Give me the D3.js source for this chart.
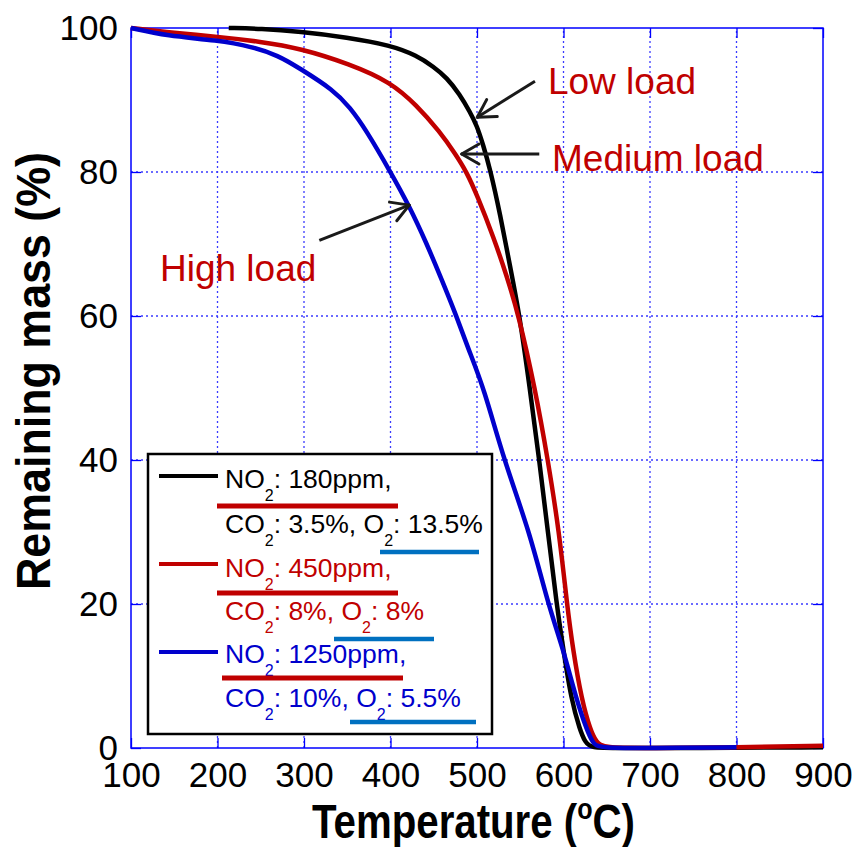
<!DOCTYPE html>
<html>
<head>
<meta charset="utf-8">
<script src="https://cdn.jsdelivr.net/npm/d3@7"></script>
<style>
  body { margin: 0; background: #fff; }
  text { font-family: "Liberation Sans", Arial, sans-serif; }
</style>
</head>
<body>
<svg id="chart" width="856" height="847"></svg>
<script>
// temperature (C) / remaining mass (%)
const lowLoadT    = [213, 250, 295, 350, 400, 430, 450, 465, 480, 492, 500, 507, 515, 527, 538, 549, 561, 572, 582, 592, 600, 609, 619, 625, 632, 660, 750, 900];
const lowLoadMass = [100, 99.9, 99.5, 98.7, 97.6, 96.2, 94.6, 93.1, 90.8, 88.3, 86.4, 83.8, 80.5, 74, 67, 60.3, 50, 40, 30, 20, 13.5, 6.7, 2.5, 0.8, 0, 0, 0, 0.1];

const medLoadT    = [100, 150, 200, 250, 295, 353, 400, 430, 457, 475, 488, 500, 519, 534, 548, 567, 582, 595, 604, 611, 621, 631, 638, 646, 700, 800, 900];
const medLoadMass = [100, 99.3, 98.8, 98.1, 97.2, 95.0, 92.5, 89.3, 85.6, 82.5, 80, 76.8, 71, 65.7, 60.2, 50, 40, 30, 20, 13.6, 6.7, 2.5, 0.8, 0, 0, 0.1, 0.3];

const highLoadT    = [100, 141, 200, 240, 270, 295, 334, 353, 372, 400, 422, 442, 458, 475, 490, 508, 531, 561, 582, 600, 615, 627, 634, 640, 700, 800];
const highLoadMass = [100, 98.9, 98.3, 97.4, 96.2, 94.4, 91.4, 89, 85.8, 80, 75.2, 70, 65.4, 60.4, 55.4, 50, 40, 30, 20, 13.6, 6.7, 2.5, 0.7, 0, 0, 0.1];

const xTicks = [100, 200, 300, 400, 500, 600, 700, 800, 900];
const yTicks = [0, 20, 40, 60, 80, 100];

const seriesColors = ["#000000", "#c00000", "#0000cc"];
const legendLines = [
  ["NO_2: 180ppm,", "CO_2: 3.5%, O_2: 13.5%"],
  ["NO_2: 450ppm,", "CO_2: 8%, O_2: 8%"],
  ["NO_2: 1250ppm,", "CO_2: 10%, O_2: 5.5%"]
];

// labels + arrows, in data units (temperature, mass)
const loadLabels = ["Low load", "Medium load", "High load"];
const labelAt = [[582, 90.8], [586.7, 80.1], [133.5, 64.9]];
const arrowTail = [[567, 92.6], [572, 82.5], [317.7, 70.5]];
const arrowTip = [[500.3, 87.6], [482.3, 82.5], [421.7, 75.4]];

const series = [
  lowLoadT.map((t, i) => ({t: t, m: lowLoadMass[i]})),
  medLoadT.map((t, i) => ({t: t, m: medLoadMass[i]})),
  highLoadT.map((t, i) => ({t: t, m: highLoadMass[i]}))
];

const svg = d3.select("#chart");

const x = d3.scaleLinear().domain([100, 900]).range([131, 823]);
const y = d3.scaleLinear().domain([0, 100]).range([748, 28]);

const GRID = "#3a3aff";
const AXIS = "#0000ff";

// dotted grid
svg.append("g")
  .selectAll("line.vgrid")
  .data(xTicks.slice(1, -1))
  .join("line")
  .attr("x1", d => x(d)).attr("x2", d => x(d))
  .attr("y1", y(0)).attr("y2", y(100))
  .attr("stroke", GRID).attr("stroke-width", 1.3)
  .attr("stroke-dasharray", "2,3");

svg.append("g")
  .selectAll("line.hgrid")
  .data(yTicks.slice(1, -1))
  .join("line")
  .attr("x1", x(100)).attr("x2", x(900))
  .attr("y1", d => y(d)).attr("y2", d => y(d))
  .attr("stroke", GRID).attr("stroke-width", 1.3)
  .attr("stroke-dasharray", "2,3");

// axes, ticks inward on all sides
function styleAxis(g) {
  g.select(".domain").remove();
  g.selectAll(".tick line").attr("stroke", AXIS).attr("stroke-width", 1.3);
  g.selectAll(".tick text").attr("fill", "#000").attr("font-size", 35)
    .attr("font-family", "Liberation Sans, Arial, sans-serif");
}

svg.append("g")
  .attr("transform", `translate(0,${y(0)})`)
  .call(d3.axisBottom(x).tickValues(xTicks).tickSizeInner(-10).tickSizeOuter(0).tickPadding(14))
  .call(styleAxis);

svg.append("g")
  .attr("transform", `translate(0,${y(100)})`)
  .call(d3.axisTop(x).tickValues(xTicks).tickSizeInner(-10).tickSizeOuter(0).tickFormat(""))
  .call(styleAxis);

svg.append("g")
  .attr("transform", `translate(${x(100)},0)`)
  .call(d3.axisLeft(y).tickValues(yTicks).tickSizeInner(-10).tickSizeOuter(0).tickPadding(13))
  .call(styleAxis);

svg.append("g")
  .attr("transform", `translate(${x(900)},0)`)
  .call(d3.axisRight(y).tickValues(yTicks).tickSizeInner(-10).tickSizeOuter(0).tickFormat(""))
  .call(styleAxis);

svg.append("rect")
  .attr("x", x(100)).attr("y", y(100))
  .attr("width", x(900) - x(100)).attr("height", y(0) - y(100))
  .attr("fill", "none").attr("stroke", AXIS).attr("stroke-width", 1.5);

// curves (b-spline to smooth the hand-read points)
const line = d3.line().x(d => x(d.t)).y(d => y(d.m)).curve(d3.curveBasis);

svg.append("g")
  .selectAll("path.curve")
  .data(series)
  .join("path")
  .attr("d", line)
  .attr("fill", "none")
  .attr("stroke", (d, i) => seriesColors[i])
  .attr("stroke-width", 4.5)
  .attr("stroke-linejoin", "round");

// arrows + load labels
const ARROW = "#1a1a1a";
loadLabels.forEach((lab, i) => {
  const x0 = x(arrowTail[i][0]), y0 = y(arrowTail[i][1]);
  const x1 = x(arrowTip[i][0]), y1 = y(arrowTip[i][1]);
  const a = Math.atan2(y0 - y1, x0 - x1);
  const len = 20, spread = Math.PI / 6;
  svg.append("line")
    .attr("x1", x0).attr("y1", y0).attr("x2", x1).attr("y2", y1)
    .attr("stroke", ARROW).attr("stroke-width", 3);
  [-spread, spread].forEach(s => {
    svg.append("line")
      .attr("x1", x1).attr("y1", y1)
      .attr("x2", x1 + len * Math.cos(a + s)).attr("y2", y1 + len * Math.sin(a + s))
      .attr("stroke", ARROW).attr("stroke-width", 3).attr("stroke-linecap", "round");
  });
  svg.append("text")
    .attr("x", x(labelAt[i][0])).attr("y", y(labelAt[i][1]))
    .attr("font-size", 37).attr("fill", "#c00000")
    .text(lab);
});

// legend
const legend = svg.append("g");
legend.append("rect")
  .attr("x", 148).attr("y", 454).attr("width", 344).attr("height", 280)
  .attr("fill", "#fff").attr("stroke", "#000").attr("stroke-width", 2.5);

function subText(sel, str, size) {
  str.split(/(_\d)/).forEach(part => {
    if (part.startsWith("_")) {
      sel.append("tspan").attr("font-size", Math.round(size * 0.62)).attr("dy", 13).text(part.slice(1));
    } else if (part.length) {
      const t = sel.append("tspan").text(part);
      if (sel.selectAll("tspan").size() > 1) t.attr("dy", -13);
    }
  });
}

const sampleY = [476, 564, 652];
const textY = [[488, 533], [577, 620], [663, 707]];
legendLines.forEach((rows, i) => {
  legend.append("line")
    .attr("x1", 159).attr("x2", 218).attr("y1", sampleY[i]).attr("y2", sampleY[i])
    .attr("stroke", seriesColors[i]).attr("stroke-width", 4);
  rows.forEach((r, j) => {
    const t = legend.append("text")
      .attr("x", 225).attr("y", textY[i][j])
      .attr("font-size", 26.5).attr("fill", seriesColors[i]);
    subText(t, r, 26.5);
  });
});

// highlight bars under the legend text
const redBars = [[217, 398, 506], [217, 398, 593], [222, 403, 678]];
const blueBars = [[380, 479, 552], [334, 434, 639], [350, 476, 722]];
redBars.forEach(b => legend.append("line")
  .attr("x1", b[0]).attr("x2", b[1]).attr("y1", b[2]).attr("y2", b[2])
  .attr("stroke", "#c00000").attr("stroke-width", 5));
blueBars.forEach(b => legend.append("line")
  .attr("x1", b[0]).attr("x2", b[1]).attr("y1", b[2]).attr("y2", b[2])
  .attr("stroke", "#0070c0").attr("stroke-width", 4.5));

// axis titles (condensed bold)
const xt = svg.append("text")
  .attr("x", 312).attr("y", 838)
  .attr("font-size", 48).attr("font-weight", "bold")
  .attr("textLength", 323).attr("lengthAdjust", "spacingAndGlyphs");
xt.append("tspan").text("Temperature (");
xt.append("tspan").attr("font-size", 30).attr("dy", -19).text("o");
xt.append("tspan").attr("dy", 19).text("C)");

svg.append("text")
  .attr("transform", "translate(50,590) rotate(-90)")
  .attr("font-size", 48).attr("font-weight", "bold")
  .attr("textLength", 438).attr("lengthAdjust", "spacingAndGlyphs")
  .text("Remaining mass (%)");
</script>
</body>
</html>
